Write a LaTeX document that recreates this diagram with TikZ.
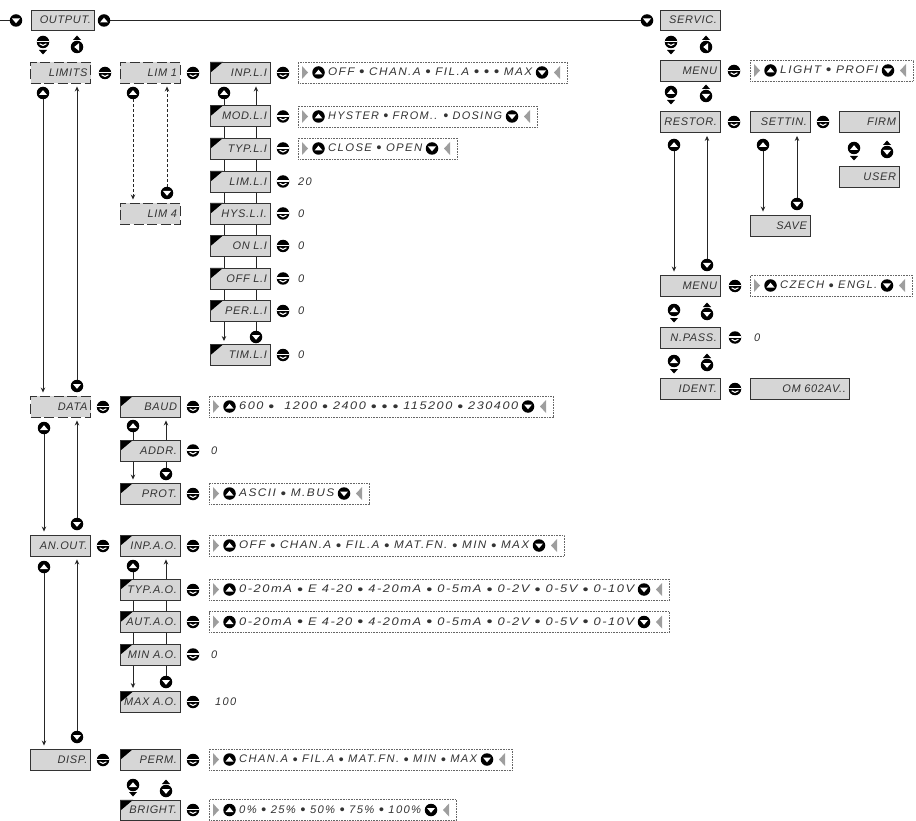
\documentclass[tikz,border=0pt]{standalone}
\usepackage{fontspec}
\usepackage{graphicx}
\usetikzlibrary{arrows.meta}
\newfontfamily\lcdfont[LetterSpace=6]{Liberation Sans}
\newfontfamily\lcdval[LetterSpace=12]{Liberation Sans}
\pgfdeclarelayer{background}
\pgfsetlayers{background,main}
\definecolor{boxgray}{gray}{0.84}
\definecolor{txtgray}{gray}{0.2}
\definecolor{trigray}{gray}{0.62}
\tikzset{
 btn/.style={circle,fill=black,inner sep=0pt,minimum size=12.5pt},
 bup/.style={btn,path picture={\fill[white] ([shift={(-4,2)}]path picture bounding box.center) -- ([shift={(4,2)}]path picture bounding box.center) -- ([shift={(0,-2.8)}]path picture bounding box.center) -- cycle;}},
 bdn/.style={btn,path picture={\fill[white] ([shift={(-4,-2)}]path picture bounding box.center) -- ([shift={(4,-2)}]path picture bounding box.center) -- ([shift={(0,2.8)}]path picture bounding box.center) -- cycle;}},
 bleft/.style={btn,path picture={\fill[white] ([shift={(-2.8,0)}]path picture bounding box.center) -- ([shift={(2,-3.8)}]path picture bounding box.center) -- ([shift={(2,3.8)}]path picture bounding box.center) -- cycle;}},
 bent/.style={btn,path picture={\fill[white] ([shift={(-7,-1.4)}]path picture bounding box.center) rectangle ([shift={(7,0.1)}]path picture bounding box.center); \draw[white,line width=1.1pt] ([shift={(-3.4,1.8)}]path picture bounding box.center) .. controls ([shift={(-1.6,4)}]path picture bounding box.center) and ([shift={(1.6,4)}]path picture bounding box.center) .. ([shift={(3.4,1.8)}]path picture bounding box.center);}},
 lcd/.style={font=\lcdfont\itshape\fontsize{11}{12}\selectfont,text=txtgray},
 mbox/.style={rectangle,draw=black!80,line width=0.9pt,fill=boxgray,minimum width=60pt,minimum height=21pt,inner sep=0pt,lcd,text width=54pt,align=right},
 dbox/.style={mbox,dash pattern=on 10pt off 3.5pt},
 ibox/.style={mbox,path picture={\fill[black] (path picture bounding box.north west) -- ++(13,0) -- ++(-13,11) -- cycle;}},
 vbox/.style={rectangle,draw=black!60,line width=0.6pt,dash pattern=on 0.7pt off 0.9pt,minimum height=21pt,inner sep=0pt,anchor=west},
 vtxt/.style={font=\lcdval\itshape\fontsize{11}{12}\selectfont,text=txtgray,inner sep=0pt,anchor=west},
 conn/.style={draw=black!85,line width=0.7pt,-{Stealth[length=5pt,width=4.5pt]},shorten >=3pt},
 dconn/.style={conn,dash pattern=on 3pt off 2pt},
 plain/.style={draw=black!85,line width=0.7pt},
 triD/.pic={\fill (-4,0) -- (4,0) -- (0,4.5) -- cycle;},
 triU/.pic={\fill (-4,0) -- (4,0) -- (0,-4.5) -- cycle;},
}
\newcommand\bul{\raisebox{-0.12em}{\scalebox{1.3}{•}}}
\newcommand\valbox[5]{%
  \node[vbox,minimum width={#3pt-#2pt}] (#1) at (#2,#4) {};
  \fill[trigray] (#2+4,#4-6.5) -- (#2+10,#4) -- (#2+4,#4+6.5) -- cycle;
  \node[bup] (#1u) at (#2+20.5,#4) {};
  \node[vtxt] (#1t) at (#2+30,#4) {\resizebox{\dimexpr #3pt-#2pt-65pt\relax}{\height}{#5}};
  \node[bdn] (#1d) at (#3-25,#4) {};
  \fill[trigray] (#3-7,#4-6.5) -- (#3-13,#4) -- (#3-7,#4+6.5) -- cycle;
}
\begin{document}
\begin{tikzpicture}[x=1pt,y=-1pt]
\useasboundingbox (0,0) rectangle (916,821);
% ---- top row
\coordinate (stub) at (0,20.5);
\node[bdn] (b0) at (16,20.5) {};
\node[mbox,minimum width=63pt,minimum height=20pt,text width=57pt] (output) at (62.5,20) {OUTPUT.};
\node[bup] (b1) at (104,20.5) {};
\node[bdn] (b2) at (647,20.5) {};
\node[mbox,minimum height=20pt] (servic) at (690,20) {SERVIC.};
\node[bent] (oe) at (43,42) {}; \pic at (43,50) {triD};
\pic at (77,40) {triU}; \node[bleft] (ol) at (77,47) {};
% ---- LIMITS
\node[dbox] (limits) at (60.5,72.5) {LIMITS};
\node[bent] (e1) at (105,73) {};
\node[dbox] (lim1) at (150,72.5) {LIM 1};
\node[bent] (e2) at (193,73) {};
\node[ibox] (inpli) at (240,72.5) {INP.L.I};
\node[bent] (e3) at (283,73) {};
\valbox{v1}{298}{567}{72.5}{OFF \bul\ CHAN.A \bul\ FIL.A \bul\ \bul\ \bul\ MAX}
\node[bup] (u1) at (43,93) {};
\node[bdn] (d1) at (77,386) {};
\node[bup] (u2) at (133,93) {};
\node[bdn] (d2) at (167,193) {};
\node[dbox] (lim4) at (150,213.5) {LIM 4};
\node[bup] (u3) at (224,93) {};
\node[ibox] (modli) at (240,116) {MOD.L.I};
\node[bent] (e4) at (283,116.5) {};
\valbox{v2}{298}{537}{116.5}{HYSTER \bul\ FROM.. \bul\ DOSING}
\node[ibox] (typli) at (240,148.5) {TYP.L.I};
\node[bent] (e5) at (283,148.5) {};
\valbox{v3}{298}{457}{148.5}{CLOSE \bul\ OPEN}
\node[ibox] (limli) at (240,181.5) {LIM.L.I};
\node[bent] (e6) at (283,181.5) {};
\node[vtxt] (t6) at (298,181.5) {20};
\node[ibox] (hysli) at (240,213.5) {HYS.L.I.};
\node[bent] (e7) at (283,213.5) {};
\node[vtxt] (t7) at (298,213.5) {0};
\node[ibox] (onli) at (240,246) {ON L.I};
\node[bent] (e8) at (283,246) {};
\node[vtxt] (t8) at (298,246) {0};
\node[ibox] (offli) at (240,278.5) {OFF L.I};
\node[bent] (e9) at (283,278.5) {};
\node[vtxt] (t9) at (298,278.5) {0};
\node[ibox] (perli) at (240,311) {PER.L.I};
\node[bent] (e10) at (283,311) {};
\node[vtxt] (t10) at (298,311) {0};
\node[bdn] (d3) at (256,337) {};
\node[ibox] (timli) at (240,355) {TIM.L.I};
\node[bent] (e11) at (283,355) {};
\node[vtxt] (t11) at (298,355) {0};
% ---- DATA
\node[dbox] (data) at (60.5,406.5) {DATA};
\node[bent] (e12) at (103,407) {};
\node[ibox] (baud) at (150,406.5) {BAUD};
\node[bent] (e13) at (193,407) {};
\valbox{v4}{209}{553}{406.5}{600 \bul\ \ 1200 \bul\ 2400 \bul\ \bul\ \bul\ 115200 \bul\ 230400}
\node[bup] (u4) at (133,426) {};
\node[bup] (u5) at (44,428) {};
\node[ibox] (addr) at (150,450.5) {ADDR.};
\node[bent] (e14) at (193,450.5) {};
\node[vtxt] (t14) at (211,450.5) {0};
\node[bdn] (d4) at (166,474) {};
\node[ibox] (prot) at (150,493.5) {PROT.};
\node[bent] (e15) at (193,494) {};
\valbox{v5}{209}{369}{493.5}{ASCII \bul\ M.BUS}
\node[bdn] (d5) at (77,524) {};
% ---- AN.OUT
\node[mbox] (anout) at (60.5,545.5) {AN.OUT.};
\node[bent] (e16) at (103,546) {};
\node[ibox] (inpao) at (150,545.5) {INP.A.O.};
\node[bent] (e17) at (193,546) {};
\valbox{v6}{209}{564}{545.5}{OFF \bul\ CHAN.A \bul\ FIL.A \bul\ MAT.FN. \bul\ MIN \bul\ MAX}
\node[bup] (u6) at (133,566) {};
\node[bup] (u7) at (44,567) {};
\node[ibox] (typao) at (150,589.5) {TYP.A.O.};
\node[bent] (e18) at (193,590) {};
\valbox{v7}{209}{669}{589.5}{0-20mA \bul\ E 4-20 \bul\ 4-20mA \bul\ 0-5mA \bul\ 0-2V \bul\ 0-5V \bul\ 0-10V}
\node[ibox] (autao) at (150,622) {AUT.A.O.};
\node[bent] (e19) at (193,622) {};
\valbox{v8}{209}{669}{622}{0-20mA \bul\ E 4-20 \bul\ 4-20mA \bul\ 0-5mA \bul\ 0-2V \bul\ 0-5V \bul\ 0-10V}
\node[ibox] (minao) at (150,654.5) {MIN A.O.};
\node[bent] (e20) at (193,654.5) {};
\node[vtxt] (t20) at (211,654.5) {0};
\node[bdn] (d6) at (166,682) {};
\node[ibox] (maxao) at (150,702) {MAX A.O.};
\node[bent] (e21) at (193,702) {};
\node[vtxt] (t21) at (215,702) {100};
\node[bdn] (d7) at (77,737) {};
% ---- DISP
\node[mbox] (disp) at (60.5,759.5) {DISP.};
\node[bent] (e22) at (103,760) {};
\node[ibox] (perm) at (150,759.5) {PERM.};
\node[bent] (e23) at (193,760) {};
\valbox{v9}{209}{512}{759.5}{CHAN.A \bul\ FIL.A \bul\ MAT.FN. \bul\ MIN \bul\ MAX}
\node[bup] (pu) at (133,785) {}; \pic at (133,792) {triD};
\pic at (166,784) {triU}; \node[bdn] (pd) at (166,791) {};
\node[ibox,minimum height=20.5pt] (bright) at (150,810.2) {BRIGHT.};
\node[bent] (e24) at (193,810) {};
\valbox{v10}{209}{456}{810}{0\% \bul\ 25\% \bul\ 50\% \bul\ 75\% \bul\ 100\%}
% ---- SERVICE side
\node[bent] (se) at (671,42) {}; \pic at (671,50) {triD};
\pic at (706,40) {triU}; \node[bleft] (sl) at (706,47) {};
\node[mbox] (menuone) at (690,70.5) {MENU};
\node[bent] (e25) at (734,71) {};
\valbox{v11}{750}{913}{70.5}{LIGHT \bul\ PROFI}
\node[bup] (mu) at (671,92) {}; \pic at (671,100) {triD};
\pic at (706,89) {triU}; \node[bdn] (md) at (706,96) {};
\node[mbox] (restor) at (690,122) {RESTOR.};
\node[bent] (e26) at (734,122) {};
\node[mbox] (settin) at (780,122) {SETTIN.};
\node[bent] (e27) at (823,122) {};
\node[mbox] (firm) at (869,122) {FIRM};
\node[bup] (u8) at (674,145) {};
\node[bup] (u9) at (763,145) {};
\node[bup] (fu) at (854,148) {}; \pic at (854,156) {triD};
\pic at (887,145) {triU}; \node[bdn] (fd) at (887,152) {};
\node[mbox] (user) at (869,177) {USER};
\node[bdn] (d9) at (797,204) {};
\node[mbox] (save) at (780,225.5) {SAVE};
\node[bdn] (d8) at (707,265) {};
\node[mbox] (menutwo) at (690,285.5) {MENU};
\node[bent] (e28) at (735,286) {};
\valbox{v12}{750}{912}{285.5}{CZECH \bul\ ENGL.}
\node[bup] (nu) at (674,310) {}; \pic at (674,318) {triD};
\pic at (707,307) {triU}; \node[bdn] (nd) at (707,314) {};
\node[mbox] (npass) at (690,337.5) {N.PASS.};
\node[bent] (e29) at (735,337.5) {};
\node[vtxt] (t29) at (754,337.5) {0};
\node[bup] (iu) at (674,361) {}; \pic at (674,369) {triD};
\pic at (707,358) {triU}; \node[bdn] (id) at (707,365) {};
\node[mbox] (ident) at (690,388.5) {IDENT.};
\node[bent] (e30) at (735,389) {};
\node[mbox,minimum width=99pt,text width=93pt] (om) at (799.5,388.5) {OM 602AV..};
% ---- connectors
\begin{pgfonlayer}{background}
\draw[plain] (stub) -- (b0);
\draw[plain] (b1) -- (b2);
\draw[conn] (u1) -- (u1 |- data.north);
\draw[conn] (d1) -- (d1 |- limits.south);
\draw[dconn] (u2) -- (u2 |- lim4.north);
\draw[dconn] (d2) -- (d2 |- lim1.south);
\draw[conn] (u3) -- (u3 |- timli.north);
\draw[conn] (d3) -- (d3 |- inpli.south);
\draw[conn] (u4) -- (u4 |- prot.north);
\draw[conn] (d4) -- (d4 |- baud.south);
\draw[conn] (u5) -- (u5 |- anout.north);
\draw[conn] (d5) -- (d5 |- data.south);
\draw[conn] (u6) -- (u6 |- maxao.north);
\draw[conn] (d6) -- (d6 |- inpao.south);
\draw[conn] (u7) -- (u7 |- disp.north);
\draw[conn] (d7) -- (d7 |- anout.south);
\draw[conn] (u8) -- (u8 |- menutwo.north);
\draw[conn] (d8) -- (d8 |- restor.south);
\draw[conn] (u9) -- (u9 |- save.north);
\draw[conn] (d9) -- (d9 |- settin.south);
\end{pgfonlayer}
\end{tikzpicture}
\end{document}
